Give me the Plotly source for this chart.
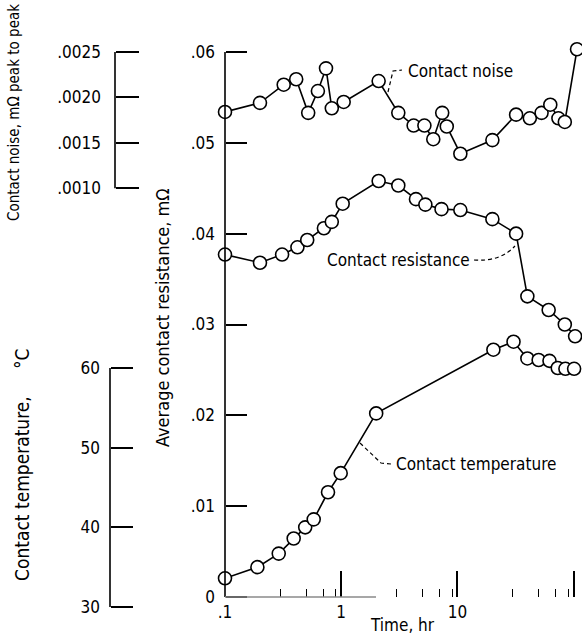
import plotly.graph_objects as go

W, H = 582, 638

# ---------------- data ----------------
noise_time = [0.1, 0.2, 0.32, 0.41, 0.52, 0.63, 0.74, 0.83, 1.05, 2.1, 3.1, 4.2, 5.2,
              6.2, 7.4, 8.1, 10.6, 20, 32, 42, 53, 63, 74, 84, 107]
noise_val = [0.00184, 0.00194, 0.00214, 0.00220, 0.00183, 0.00207, 0.00232, 0.00188,
             0.00195, 0.00218, 0.00183, 0.00169, 0.00169, 0.00154, 0.00183, 0.00168,
             0.00138, 0.00153, 0.00181, 0.00177, 0.00183, 0.00192, 0.00177, 0.00173,
             0.00253]

res_time = [0.1, 0.2, 0.31, 0.42, 0.51, 0.71, 0.83, 1.03, 2.1, 3.1, 4.4, 5.3, 7.3,
            10.6, 20, 32, 40, 61, 84, 103]
res_val = [0.0377, 0.0368, 0.0377, 0.0385, 0.0393, 0.0406, 0.0413, 0.0433, 0.0458,
           0.0453, 0.0438, 0.0432, 0.0427, 0.0426, 0.0416, 0.0400, 0.0331, 0.0316,
           0.0300, 0.0287]

temp_time = [0.1, 0.19, 0.29, 0.39, 0.49, 0.58, 0.77, 0.99, 2.0, 20.4, 30.4, 40,
             50, 62, 73, 85, 101]
temp_val = [33.6, 35.0, 36.7, 38.6, 40.0, 41.0, 44.4, 46.8, 54.3, 62.3, 63.3, 61.2,
            61.0, 60.9, 60.0, 59.9, 59.9]

x_tickvals = [0.1, 1, 10, 100]
x_ticktext = [".1", "1", "10", "100"]
x_minor_even = [0.2, 0.4, 0.6, 0.8, 2, 4, 6, 8, 20, 40, 60, 80]
x_minor_odd = [0.3, 0.5, 0.7, 0.9, 3, 5, 7, 9, 30, 50, 70, 90]

res_tickvals = [0, 0.01, 0.02, 0.03, 0.04, 0.05, 0.06]
res_ticktext = ["0", ".01", ".02", ".03", ".04", ".05", ".06"]
noise_tickvals = [0.0010, 0.0015, 0.0020, 0.0025]
noise_ticktext = [".0010", ".0015", ".0020", ".0025"]
temp_tickvals = [30, 40, 50, 60]
temp_ticktext = ["30", "40", "50", "60"]

# ---------------- layout geometry (pixels) ----------------
FONT = "DejaVu Sans Condensed, Liberation Sans Narrow, Arial Narrow, sans-serif"
X_LEFT, X_RIGHT = 225, 580
Y_TOP, Y_BOT = 41, 612
Y_ZERO = 597
PX_PER_UNIT = 545 / 0.06  # main axis


def px(x):
    return x / W


def py(y):
    return 1 - y / H


res_range = [(Y_ZERO - Y_BOT) / PX_PER_UNIT, (Y_ZERO - Y_TOP) / PX_PER_UNIT]
noise_range = [0.1 * v - 0.0035 for v in res_range]
T_PX = (607 - 368) / 30.0
temp_range = [30 + (607 - Y_BOT) / T_PX, 30 + (607 - Y_TOP) / T_PX]

line_style = dict(color="black", width=1.6)
marker_style = dict(symbol="circle", size=13, color="white",
                    line=dict(color="black", width=1.6))

fig = go.Figure()
fig.add_trace(go.Scatter(x=noise_time, y=noise_val, yaxis="y2", mode="lines+markers",
                         line=line_style, marker=marker_style, cliponaxis=False))
fig.add_trace(go.Scatter(x=res_time, y=res_val, yaxis="y", mode="lines+markers",
                         line=line_style, marker=marker_style, cliponaxis=False))
fig.add_trace(go.Scatter(x=temp_time, y=temp_val, yaxis="y3", mode="lines+markers",
                         line=line_style, marker=marker_style, cliponaxis=False))

tickfont = dict(family=FONT, size=17, color="black")
ydom = [py(Y_BOT), py(Y_TOP)]
common = dict(showgrid=False, zeroline=False, showline=False, automargin=False)

fig.update_layout(
    width=W, height=H, margin=dict(l=0, r=0, t=0, b=0, pad=0, autoexpand=False),
    paper_bgcolor="white", plot_bgcolor="white", showlegend=False,
    font=dict(family=FONT, size=17, color="black"),
    xaxis=dict(type="log", domain=[px(X_LEFT), px(X_RIGHT)], range=[-1, 2.055],
               anchor="free", position=py(Y_ZERO),
               tickmode="array", tickvals=x_tickvals, ticktext=x_ticktext,
               ticks="inside", ticklen=26, tickwidth=1.5, tickcolor="black",
               minor=dict(tickmode="array", tickvals=x_minor_odd, ticks="inside",
                          ticklen=8, tickwidth=1.4, tickcolor="black", showgrid=False),
               tickfont=tickfont, ticklabelstandoff=3, **common),
    xaxis2=dict(type="log", domain=[px(X_LEFT), px(X_RIGHT)], range=[-1, 2.055],
                overlaying="x", anchor="free", position=py(Y_ZERO),
                tickmode="array", tickvals=x_minor_even, ticks="inside", ticklen=16,
                tickwidth=1.4, tickcolor="black", showticklabels=False, **common),
    yaxis=dict(domain=ydom, range=res_range, anchor="free", position=px(X_LEFT),
               tickmode="array", tickvals=res_tickvals, ticktext=res_ticktext,
               ticks="inside", ticklen=21, tickwidth=1.5, tickcolor="black",
               tickfont=tickfont, ticklabelstandoff=10, **common),
    yaxis2=dict(domain=ydom, range=noise_range, overlaying="y", anchor="free",
                position=px(115), side="left",
                tickmode="array", tickvals=noise_tickvals, ticktext=noise_ticktext,
                ticks="inside", ticklen=23, tickwidth=1.5, tickcolor="black",
                tickfont=tickfont, ticklabelstandoff=14, **common),
    yaxis3=dict(domain=ydom, range=temp_range, overlaying="y", anchor="free",
                position=px(110), side="left",
                tickmode="array", tickvals=temp_tickvals, ticktext=temp_ticktext,
                ticks="inside", ticklen=22, tickwidth=1.5, tickcolor="black",
                tickfont=tickfont, ticklabelstandoff=10, **common),
)

# axis lines (brackets)
fig.add_shape(type="line", xref="paper", yref="y", x0=px(X_LEFT), x1=px(X_LEFT),
              y0=res_tickvals[0], y1=res_tickvals[-1], line=dict(color="black", width=1.6))
fig.add_shape(type="line", xref="paper", yref="y2", x0=px(115), x1=px(115),
              y0=noise_tickvals[0], y1=noise_tickvals[-1], line=dict(color="black", width=1.6))
fig.add_shape(type="line", xref="paper", yref="y3", x0=px(110), x1=px(110),
              y0=temp_tickvals[0], y1=temp_tickvals[-1], line=dict(color="black", width=1.6))
# faint baseline of the time axis
fig.add_shape(type="line", xref="paper", yref="y", x0=px(X_LEFT), x1=px(376),
              y0=0, y1=0, line=dict(color="#8a8a8a", width=1.6))

# leader lines for the curve labels
lead = dict(color="black", width=1.2, dash="4px,3px")
fig.add_shape(type="path", xref="paper", yref="paper",
              path=f"M {px(388)} {py(92)} L {px(393)} {py(71)} L {px(402)} {py(70)}", line=lead)
fig.add_shape(type="path", xref="paper", yref="paper",
              path=f"M {px(474)} {py(260)} Q {px(500)} {py(262)} {px(515)} {py(246)}", line=lead)
fig.add_shape(type="path", xref="paper", yref="paper",
              path=f"M {px(360)} {py(443)} L {px(381)} {py(463)} L {px(391)} {py(464)}", line=lead)

def ann(size=17):
    return dict(xref="paper", yref="paper", showarrow=False,
                font=dict(family=FONT, size=size, color="black"))

fig.add_annotation(text="Contact noise", x=px(406), y=py(71), xanchor="left", yanchor="middle", **ann())
fig.add_annotation(text="Contact resistance", x=px(472), y=py(260), xanchor="right", yanchor="middle", **ann())
fig.add_annotation(text="Contact temperature", x=px(394), y=py(464), xanchor="left", yanchor="middle", **ann())
fig.add_annotation(text="Time, hr", x=px(402), y=py(625), xanchor="center", yanchor="middle", **ann())
fig.add_annotation(text="Average contact resistance, m\u03a9", x=px(162), y=py(318), textangle=-90,
                   xanchor="center", yanchor="middle", **ann(18))
fig.add_annotation(text="Contact noise, m\u03a9 peak to peak", x=px(14), y=py(113), textangle=-90,
                   xanchor="center", yanchor="middle", **ann(15))
fig.add_annotation(text="Contact temperature,\u00a0\u00a0\u00a0\u00a0\u00a0\u00b0C", x=px(22), y=py(465),
                   textangle=-90, xanchor="center", yanchor="middle", **ann(19))

fig.write_html("out.html", config={"displayModeBar": False},
               post_script="document.body.style.margin='0';document.body.style.padding='0';")
